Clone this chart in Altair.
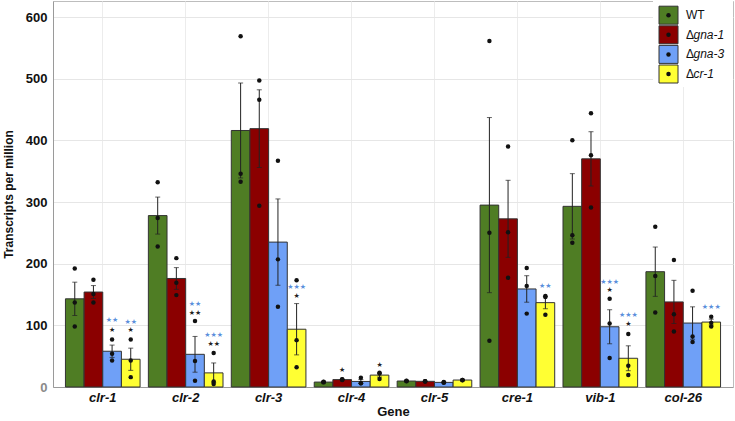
import altair as alt
import pandas as pd

# Genes on the x axis and the four strains
genes = ["clr-1", "clr-2", "clr-3", "clr-4", "clr-5", "cre-1", "vib-1", "col-26"]
genotypes = ["WT", "Δgna-1", "Δgna-3", "Δcr-1"]
colors = ["#4f7d24", "#8b0000", "#6fa0f7", "#ffff33"]

# Mean transcripts per million (bar heights) per strain
mean_wt = [143, 278, 416, 8, 9.7, 295, 293, 187]
mean_gna1 = [154, 176, 419, 12, 9.2, 272.7, 370, 138]
mean_gna3 = [58, 53, 235, 9, 7.5, 159, 97.7, 103.7]
mean_cr1 = [45, 22.9, 93.7, 19.3, 11.3, 136.8, 46.6, 105.3]

# Standard error of the mean
se_wt = [27, 30, 77, 1.0, 0.8, 142, 53, 40]
se_gna1 = [10.5, 17.6, 63, 0.6, 0.5, 62.5, 44, 35]
se_gna3 = [10, 29, 70, 3.0, 0.7, 21.5, 27.6, 26.3]
se_cr1 = [18, 16.1, 41.6, 3.2, 0.6, 9.9, 20.2, 4.7]

# Individual replicates
reps_wt = [[192, 137, 98], [332, 274, 228], [569, 346, 333], [8, 8.5, 7.5],
           [10, 9.5, 9.6], [561, 250, 75], [400, 246, 234], [260, 180, 121]]
reps_gna1 = [[174, 151, 137], [209, 169, 149], [497, 466, 294], [12.5, 12, 11.5],
             [9.2, 9, 9.4], [390, 251, 177], [444, 376, 291], [206, 118, 90]]
reps_gna3 = [[77, 54, 43], [107, 42, 10], [367, 207, 130], [15, 6, 6],
             [8, 7, 7.5], [193, 164, 119], [143, 103, 47], [156, 82, 73]]
reps_cr1 = [[77, 43, 16], [55, 9, 5], [173, 76, 32], [23, 22, 13],
            [11.5, 11, 11.4], [147.5, 146, 117], [86, 34.5, 19.4], [114, 104, 98]]

# Significance marks: gene, strain, height, marks, colour
sig_gene = ["clr-1", "clr-1", "clr-1", "clr-1", "clr-2", "clr-2", "clr-2", "clr-2",
            "clr-3", "clr-3", "clr-4", "clr-4", "cre-1", "vib-1", "vib-1", "vib-1",
            "vib-1", "col-26"]
sig_strain = ["Δgna-3", "Δgna-3", "Δcr-1", "Δcr-1", "Δgna-3", "Δgna-3", "Δcr-1", "Δcr-1",
              "Δcr-1", "Δcr-1", "Δgna-1", "Δcr-1", "Δcr-1", "Δgna-3", "Δgna-3", "Δcr-1",
              "Δcr-1", "Δcr-1"]
sig_y = [92, 108, 92, 105, 120, 134, 70, 84, 148, 162, 28, 36, 164, 157, 170, 102, 116, 130]
sig_text = ["★", "★★", "★", "★★", "★★", "★★", "★★", "★★★", "★", "★★★", "★", "★",
            "★★", "★", "★★★", "★", "★★★", "★★★"]
sig_color = ["#222222", "#5b8fdc", "#222222", "#5b8fdc", "#222222", "#5b8fdc", "#222222",
             "#5b8fdc", "#222222", "#5b8fdc", "#222222", "#222222", "#5b8fdc", "#222222",
             "#5b8fdc", "#222222", "#5b8fdc", "#5b8fdc"]

means = [mean_wt, mean_gna1, mean_gna3, mean_cr1]
ses = [se_wt, se_gna1, se_gna3, se_cr1]
reps = [reps_wt, reps_gna1, reps_gna3, reps_cr1]

summary_rows = []
point_rows = []
for g, strain in enumerate(genotypes):
    for i, gene in enumerate(genes):
        m, s = means[g][i], ses[g][i]
        summary_rows.append({"gene": gene, "strain": strain, "mean": m,
                             "lo": m - s, "hi": m + s})
        for v in reps[g][i]:
            point_rows.append({"gene": gene, "strain": strain, "tpm": v})
summary = pd.DataFrame(summary_rows)
points = pd.DataFrame(point_rows)
sig = pd.DataFrame({"gene": sig_gene, "strain": sig_strain, "y": sig_y,
                    "txt": sig_text, "col": sig_color})

FONT = "Liberation Sans"
Y_MAX = 626

x_enc = alt.X("gene:N", sort=genes, title="Gene",
              scale=alt.Scale(domain=genes, paddingInner=0.1, paddingOuter=0.15),
              axis=alt.Axis(labelFont=FONT, labelFontSize=13, labelFontWeight="bold",
                            labelFontStyle="italic", labelColor="#111111", labelAngle=0,
                            labelPadding=4, ticks=False, domainColor="#9a9a9a",
                            grid=True, gridColor="#ececec", bandPosition=0.5,
                            titleFont=FONT, titleFontSize=13, titleFontWeight="bold",
                            titleColor="#111111", titlePadding=1))
xoff = alt.XOffset("strain:N", sort=genotypes,
                   scale=alt.Scale(domain=genotypes, paddingInner=0, paddingOuter=0))
y_scale = alt.Scale(domain=[0, Y_MAX], nice=False, zero=True)

bars = alt.Chart(summary).mark_bar(stroke="#333333", strokeWidth=1).encode(
    x=x_enc,
    xOffset=xoff,
    y=alt.Y("mean:Q", scale=y_scale, title="Transcripts per million",
            axis=alt.Axis(values=list(range(0, 601, 50)),
                          labelExpr="datum.value % 100 == 0 ? datum.label : ''",
                          labelFont=FONT, labelFontSize=13, labelFontWeight="bold",
                          labelColor={"condition": {"test": "datum.value == 0",
                                                    "value": "#8a8a8a"},
                                      "value": "#111111"},
                          labelPadding=6, ticks=False, domainColor="#9a9a9a",
                          gridColor={"condition": {"test": "datum.value % 100 != 0",
                                                   "value": "#f4f4f4"},
                                     "value": "#e6e6e6"},
                          titleFont=FONT, titleFontSize=12, titleFontWeight="bold",
                          titleColor="#111111", titlePadding=10)),
    color=alt.Color("strain:N", scale=alt.Scale(domain=genotypes, range=colors),
                    legend=None),
)

err = alt.Chart(summary).mark_rule(color="#222222", strokeWidth=1).encode(
    x=alt.X("gene:N", sort=genes), xOffset=xoff,
    y=alt.Y("lo:Q", scale=y_scale), y2="hi:Q")
cap_lo = alt.Chart(summary).mark_tick(color="#222222", size=5, thickness=1).encode(
    x=alt.X("gene:N", sort=genes), xOffset=xoff, y=alt.Y("lo:Q", scale=y_scale))
cap_hi = alt.Chart(summary).mark_tick(color="#222222", size=5, thickness=1).encode(
    x=alt.X("gene:N", sort=genes), xOffset=xoff, y=alt.Y("hi:Q", scale=y_scale))

dots = alt.Chart(points).mark_circle(color="#111111", opacity=1, size=20).encode(
    x=alt.X("gene:N", sort=genes), xOffset=xoff, y=alt.Y("tpm:Q", scale=y_scale))

stars = alt.Chart(sig).mark_text(font="DejaVu Sans", fontSize=7, baseline="middle").encode(
    x=alt.X("gene:N", sort=genes), xOffset=xoff, y=alt.Y("y:Q", scale=y_scale),
    text="txt:N", color=alt.Color("col:N", scale=None))

# Legend drawn in the top-right corner of the panel
legend_layers = [
    alt.Chart(pd.DataFrame({"k": [0]})).mark_rect(color="white").encode(
        x=alt.value(600), x2=alt.value(680), y=alt.value(0), y2=alt.value(86))
]
for i, (strain, col) in enumerate(zip(genotypes, colors)):
    cy = 14.2 + 19.6 * i
    one = pd.DataFrame({"k": [0]})
    legend_layers.append(alt.Chart(one).mark_rect(
        color=col, stroke="#333333", strokeWidth=1).encode(
        x=alt.value(606), x2=alt.value(625), y=alt.value(cy - 9), y2=alt.value(cy + 9)))
    legend_layers.append(alt.Chart(one).mark_circle(color="#111111", opacity=1, size=20).encode(
        x=alt.value(615.5), y=alt.value(cy)))
    if strain.startswith("Δ"):
        legend_layers.append(alt.Chart(one).mark_text(
            text="Δ", font=FONT, fontSize=12, align="left", baseline="middle",
            color="#111111").encode(x=alt.value(633), y=alt.value(cy)))
        legend_layers.append(alt.Chart(one).mark_text(
            text=strain[1:], font=FONT, fontSize=12, fontStyle="italic", align="left",
            baseline="middle", color="#111111").encode(x=alt.value(640.5), y=alt.value(cy)))
    else:
        legend_layers.append(alt.Chart(one).mark_text(
            text=strain, font=FONT, fontSize=12, align="left", baseline="middle",
            color="#111111").encode(x=alt.value(633), y=alt.value(cy)))

chart = alt.layer(bars, err, cap_lo, cap_hi, dots, stars, *legend_layers).properties(
    width=680, height=386,
    padding={"left": 53, "top": 1, "right": 2, "bottom": 34},
    autosize="none",
    background="white",
).configure_view(stroke="#bdbdbd", strokeWidth=1)

chart.save("out.html", embed_options={"renderer": "svg", "actions": False})
